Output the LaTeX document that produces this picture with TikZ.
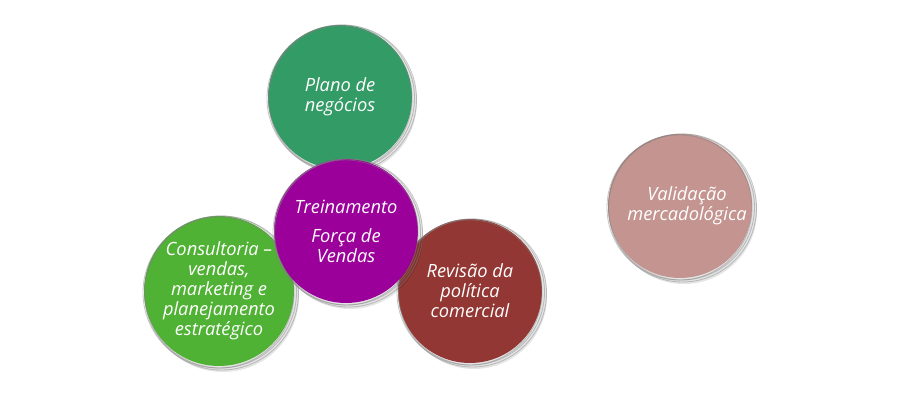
\documentclass[tikz,border=0pt]{standalone}
\usepackage{fontspec}
\setmainfont{Open Sans}
\usepackage{tikz}
\usetikzlibrary{positioning}
\definecolor{planogreen}{RGB}{51,155,101}
\definecolor{trainpurple}{RGB}{155,0,155}
\definecolor{consgreen}{RGB}{80,178,52}
\definecolor{revred}{RGB}{146,55,51}
\definecolor{valpink}{RGB}{196,149,144}
\definecolor{brushgray}{RGB}{130,130,130}

\tikzset{
  bubble/.style={circle, inner sep=0pt, minimum size=2.88cm, text=white, align=center,
    font=\itshape\fontsize{10.4}{11.4}\selectfont},
  shade/.style={fill=black, opacity=0.10}
}
% brush strokes round a bubble
\newcommand{\brushring}[2]{%
  \foreach \dx/\dy/\dr in {1.5/1/1, 2.5/2/2, -0.5/1.5/0.5}
    \draw[brushgray, line width=0.5pt, opacity=0.45] ([shift={(\dx,\dy)}]#1.center) circle[radius=#2+\dr];
}

\begin{document}
\begin{tikzpicture}[x=0.02cm, y=-0.02cm]
    \useasboundingbox (0,0) rectangle (900,416);

    % Plano de negocios
    \fill[shade] (344,102) circle[radius=73];
    \node[bubble, fill=planogreen] (plano) at (340,97) {Plano de\\negócios};
    \brushring{plano}{72}

    % Consultoria
    \fill[shade] (223,296) circle[radius=76];
    \node[bubble, fill=consgreen, minimum size=3cm] (consultoria) at (219,291)
      {Consultoria --\\vendas,\\marketing e\\planejamento\\estratégico};
    \brushring{consultoria}{75}

    % Revisao da politica comercial
    \fill[shade] (474,296) circle[radius=73];
    \node[bubble, fill=revred] (revisao) at (470,291) {Revisão da\\política\\comercial};
    \brushring{revisao}{72}

    % Treinamento
    \fill[shade] (350,236) circle[radius=73];
    \node[bubble, fill=trainpurple] (treino) at (346,231) {Treinamento\\[5pt]Força de\\Vendas};
    \brushring{treino}{72}

    % Validacao mercadologica
    \fill[shade] (684,211) circle[radius=73];
    \node[bubble, fill=valpink] (validacao) at (680,206) {\hspace*{8pt}Validação\\\hspace*{8pt}mercadológica};
    \brushring{validacao}{72}
\end{tikzpicture}
\end{document}
